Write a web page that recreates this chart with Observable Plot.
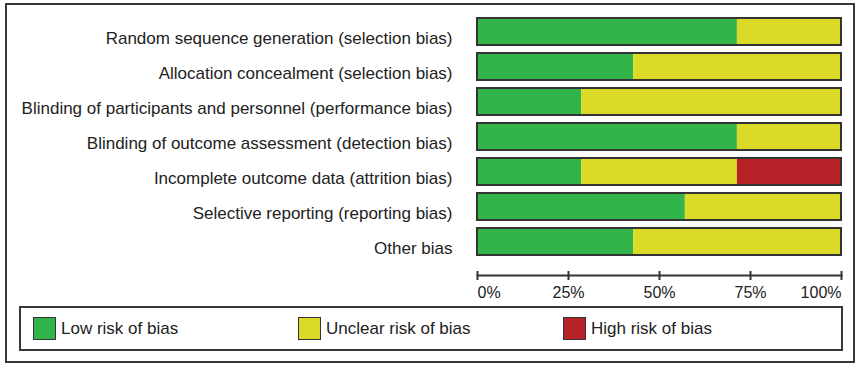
<!DOCTYPE html>
<html>
<head>
<meta charset="utf-8">
<script src="https://cdn.jsdelivr.net/npm/d3@7"></script>
<script src="https://cdn.jsdelivr.net/npm/@observablehq/plot@0.6"></script>
<style>
  html, body { margin: 0; padding: 0; background: #fff; }
  #wrap { position: relative; width: 859px; height: 367px; font-family: "Liberation Sans", Arial, sans-serif; color: #222; }
  #chart { position: absolute; left: 0; top: 0; }
  #frame { position: absolute; left: 5px; top: 3px; width: 850px; height: 360px; box-sizing: border-box; border: 2px solid #383838; pointer-events: none; }
  #legend { position: absolute; left: 19px; top: 306px; width: 824px; height: 45px; box-sizing: border-box; border: 2px solid #383838; display: flex; align-items: center; padding-left: 12px; }
  .item { width: 265px; display: flex; align-items: center; font-size: 17px; }
  .sw { width: 23px; height: 23px; box-sizing: border-box; border: 1.5px solid #333; margin-right: 5px; }
</style>
</head>
<body>
<div id="wrap">
  <div id="chart"></div>
  <div id="frame"></div>
  <div id="legend"></div>
</div>
<script>
const domains = [
  "Random sequence generation (selection bias)",
  "Allocation concealment (selection bias)",
  "Blinding of participants and personnel (performance bias)",
  "Blinding of outcome assessment (detection bias)",
  "Incomplete outcome data (attrition bias)",
  "Selective reporting (reporting bias)",
  "Other bias"
];
const riskLevels = ["Low risk of bias", "Unclear risk of bias", "High risk of bias"];
const riskColors = ["#33b44b", "#dbdb27", "#b72229"];
const low     = [71.4, 42.9, 28.6, 71.4, 28.6, 57.1, 42.9];
const unclear = [28.6, 57.1, 71.4, 28.6, 42.8, 42.9, 57.1];
const high    = [0, 0, 0, 0, 28.6, 0, 0];
const xTicks = [0, 25, 50, 75, 100];
const xTickLabels = ["0%", "25%", "50%", "75%", "100%"];

const table = domains.flatMap((d, i) => [
  {domain: d, risk: riskLevels[0], value: low[i]},
  {domain: d, risk: riskLevels[1], value: unclear[i]},
  {domain: d, risk: riskLevels[2], value: high[i]}
]);
const tickData = xTicks.map((t, i) => ({x: t, label: xTickLabels[i]}));

const plot = Plot.plot({
  width: 859,
  height: 300,
  marginLeft: 477,
  marginRight: 18,
  marginTop: 9,
  marginBottom: 29,
  style: {fontFamily: "Liberation Sans, Arial, sans-serif", color: "#222", background: "transparent"},
  x: {domain: [0, 100], axis: null},
  y: {domain: domains, range: [9.2, 264.4], padding: 0.222, axis: null},
  color: {domain: riskLevels, range: riskColors},
  marks: [
    Plot.barX(table, Plot.stackX({y: "domain", x: "value", fill: "risk", order: null})),
    Plot.barX(domains, {y: d => d, x1: 0, x2: 100, fill: "none", stroke: "#333", strokeWidth: 2}),
    Plot.axisY({tickSize: 0, tickPadding: 25, fontSize: 17, dy: 7, label: null, fill: "#222"}),
    Plot.axisX({ticks: xTicks, tickSize: 9, tickFormat: () => "", strokeWidth: 2, stroke: "#333", label: null}),
    Plot.frame({anchor: "bottom", dy: 4, stroke: "#333", strokeWidth: 2}),
    Plot.text(tickData.slice(0, 1), {x: "x", text: "label", frameAnchor: "bottom", dy: 26, textAnchor: "start", fontSize: 16, fill: "#222"}),
    Plot.text(tickData.slice(1, -1), {x: "x", text: "label", frameAnchor: "bottom", dy: 26, textAnchor: "middle", fontSize: 16, fill: "#222"}),
    Plot.text(tickData.slice(-1), {x: "x", text: "label", frameAnchor: "bottom", dy: 26, textAnchor: "end", fontSize: 16, fill: "#222"})
  ]
});
document.getElementById("chart").appendChild(plot);

const legend = document.getElementById("legend");
riskLevels.forEach((r, i) => {
  const item = document.createElement("div");
  item.className = "item";
  const sw = document.createElement("div");
  sw.className = "sw";
  sw.style.background = riskColors[i];
  const label = document.createElement("span");
  label.textContent = r;
  item.appendChild(sw);
  item.appendChild(label);
  legend.appendChild(item);
});
</script>
</body>
</html>
